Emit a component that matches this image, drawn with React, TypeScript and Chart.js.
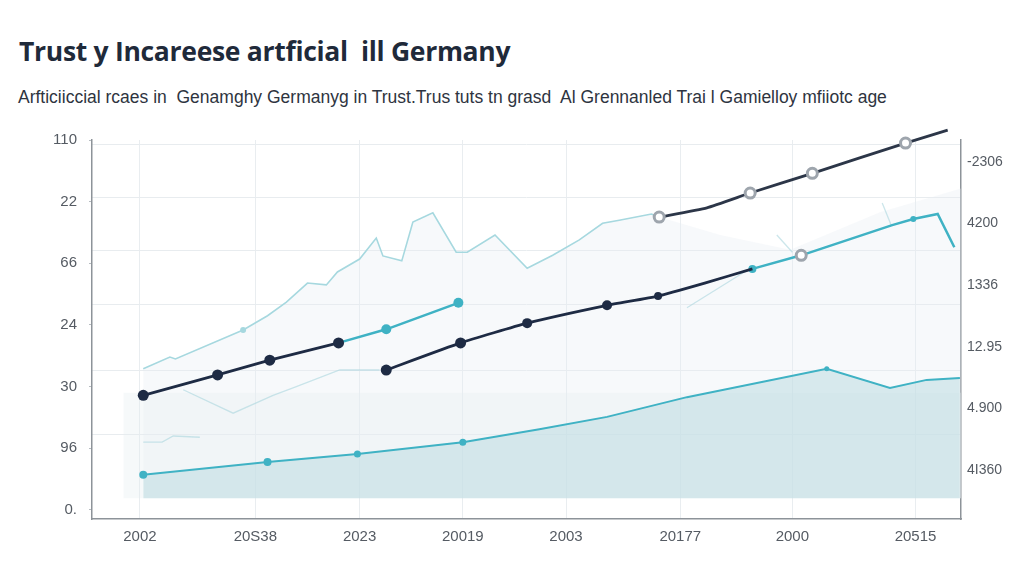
import React, { useEffect, useRef } from "react";
import { Chart, registerables } from "chart.js";

Chart.register(...registerables);

// ---------- text ----------
const TITLE = "Trust y Incareese artficial  ill Germany";
const SUBTITLE =
  "Arfticiiccial rcaes in  Genamghy Germanyg in Trust.Trus tuts tn grasd  Al Grennanled Trai l Gamielloy mfiiotc age";

// ---------- axes ----------
const X_TICK_LABELS = ["2002", "20S38", "2023", "20019", "2003", "20177", "2000", "20515"];
const X_TICK_POS = [0, 1.04, 1.98, 2.91, 3.84, 4.87, 5.88, 6.99];
const LEFT_TICK_LABELS = ["0.", "96", "30", "24", "66", "22", "110"];
const RIGHT_TICK_LABELS = ["4I360", "4.900", "12.95", "1336", "4200", "-2306"];
const GRID_LEVELS = [1.22, 2.27, 3.34, 4.2, 5.06, 5.93];

// ---------- series ----------
const DARK_A_X = [0.03, 0.7, 1.17, 1.79];
const DARK_A_Y = [1.86, 2.19, 2.43, 2.71];

const TEAL_A_X = [1.79, 2.22, 2.87];
const TEAL_A_Y = [2.71, 2.93, 3.36];

const DARK_B_X = [2.22, 2.89, 3.49, 4.21, 4.67, 5.09, 5.52];
const DARK_B_Y = [2.27, 2.71, 3.03, 3.32, 3.47, 3.68, 3.91];

const TEAL_B_X = [5.52, 5.96, 6.78, 6.97, 7.19, 7.34];
const TEAL_B_Y = [3.91, 4.13, 4.62, 4.72, 4.8, 4.26];

const DARK_C_X = [4.68, 5.11, 5.5, 6.06, 6.9, 7.28];
const DARK_C_Y = [4.75, 4.9, 5.14, 5.46, 5.95, 6.16];

const LIGHT_X = [0.03, 0.27, 0.32, 0.93, 1.15, 1.32, 1.51, 1.68, 1.78, 1.98, 2.13, 2.19, 2.36, 2.46, 2.64, 2.85, 2.95, 3.2, 3.49, 3.72, 3.96, 4.17, 4.32, 4.61, 4.68];
const LIGHT_Y = [2.29, 2.48, 2.45, 2.92, 3.15, 3.37, 3.68, 3.65, 3.86, 4.07, 4.41, 4.12, 4.04, 4.67, 4.82, 4.18, 4.18, 4.46, 3.92, 4.13, 4.38, 4.65, 4.7, 4.8, 4.75];
const HAZE_TAIL_X = [5.23, 5.86, 6.67, 7.41];
const HAZE_TAIL_Y = [4.46, 4.22, 4.83, 5.22];

const FAINT_1_X = [0.03, 0.2, 0.3, 0.54];
const FAINT_1_Y = [1.1, 1.1, 1.2, 1.18];
const FAINT_2_X = [0.39, 0.84, 1.2, 1.38, 1.8, 2.16];
const FAINT_2_Y = [1.95, 1.57, 1.86, 1.98, 2.27, 2.27];
const FAINT_3_X = [4.93, 5.52];
const FAINT_3_Y = [3.28, 3.94];
const FAINT_4_X = [5.74, 5.88];
const FAINT_4_Y = [4.46, 4.18];
const FAINT_5_X = [6.69, 6.77];
const FAINT_5_Y = [4.98, 4.62];

const BOTTOM_X = [0.03, 1.15, 1.96, 2.91, 3.6, 4.21, 4.93, 6.19, 6.76, 7.09, 7.39];
const BOTTOM_Y = [0.57, 0.78, 0.91, 1.1, 1.31, 1.51, 1.83, 2.29, 1.98, 2.11, 2.14];

const BACKDROP_X = [-0.15, 7.41];
const BACKDROP_Y = [1.9, 1.9];

const FILL_BASE = 0.19;

// ---------- colours ----------
const NAVY = "#1e2b44";
const NAVY_C = "#2c3648";
const TEAL = "#3fb2c4";
const LIGHT_TEAL = "#a6d8df";
const HOLLOW = "#9ea5ad";

const zip = (xs: number[], ys: number[]) => xs.map((x, i) => ({ x, y: ys[i] }));

export default function App() {
  const ref = useRef<HTMLCanvasElement | null>(null);

  useEffect(() => {
    document.body.style.margin = "0";
    const canvas = ref.current;
    if (!canvas) return;

    const font = { family: "'Liberation Sans', Arial, sans-serif", size: 15 };

    const chart = new Chart(canvas, {
      type: "line",
      data: {
        datasets: [
          {
            label: "backdrop",
            data: zip(BACKDROP_X, BACKDROP_Y),
            borderColor: "transparent",
            backgroundColor: "rgba(230,238,242,0.35)",
            fill: { value: FILL_BASE },
            pointRadius: 0,
            order: 12,
          },
          {
            label: "haze",
            data: zip(LIGHT_X.concat(HAZE_TAIL_X), LIGHT_Y.concat(HAZE_TAIL_Y)),
            borderColor: "transparent",
            backgroundColor: "rgba(232,239,243,0.35)",
            fill: { value: FILL_BASE },
            pointRadius: 0,
            order: 11,
          },
          {
            label: "bottom",
            data: zip(BOTTOM_X, BOTTOM_Y),
            borderColor: TEAL,
            borderWidth: 2,
            backgroundColor: "rgba(183,217,224,0.5)",
            fill: { value: FILL_BASE },
            pointRadius: [4, 4, 3.5, 3.5, 0, 0, 0, 2.5, 0, 0, 0],
            pointBackgroundColor: TEAL,
            pointBorderWidth: 0,
            order: 10,
          },
          {
            label: "light",
            data: zip(LIGHT_X, LIGHT_Y),
            borderColor: LIGHT_TEAL,
            borderWidth: 1.6,
            fill: false,
            pointRadius: LIGHT_X.map((_, i) => (i === 3 ? 3 : 0)),
            pointBackgroundColor: LIGHT_TEAL,
            pointBorderWidth: 0,
            order: 9,
          },
          ...[
            [FAINT_1_X, FAINT_1_Y],
            [FAINT_2_X, FAINT_2_Y],
            [FAINT_3_X, FAINT_3_Y],
            [FAINT_4_X, FAINT_4_Y],
            [FAINT_5_X, FAINT_5_Y],
          ].map(([xs, ys], k) => ({
            label: "faint" + k,
            data: zip(xs, ys),
            borderColor: "rgba(170,214,222,0.6)",
            borderWidth: 1.3,
            fill: false,
            pointRadius: 0,
            order: 8,
          })),
          {
            label: "tealA",
            data: zip(TEAL_A_X, TEAL_A_Y),
            borderColor: TEAL,
            borderWidth: 2.5,
            fill: false,
            pointRadius: [0, 5, 5],
            pointBackgroundColor: TEAL,
            pointBorderWidth: 0,
            order: 3,
          },
          {
            label: "tealB",
            data: zip(TEAL_B_X, TEAL_B_Y),
            borderColor: TEAL,
            borderWidth: 2.5,
            fill: false,
            pointRadius: [4, 5, 0, 3, 0, 0],
            pointBackgroundColor: [TEAL, "#ffffff", TEAL, TEAL, TEAL, TEAL],
            pointBorderColor: [TEAL, HOLLOW, TEAL, TEAL, TEAL, TEAL],
            pointBorderWidth: [0, 3, 0, 0, 0, 0],
            clip: false,
            order: 3,
          },
          {
            label: "darkA",
            data: zip(DARK_A_X, DARK_A_Y),
            borderColor: NAVY,
            borderWidth: 2.8,
            fill: false,
            pointRadius: 5.5,
            pointBackgroundColor: NAVY,
            pointBorderWidth: 0,
            order: 2,
          },
          {
            label: "darkB",
            data: zip(DARK_B_X, DARK_B_Y),
            borderColor: NAVY,
            borderWidth: 2.8,
            tension: 0.15,
            fill: false,
            pointRadius: [5.5, 5.5, 5, 5, 4, 0, 0],
            pointBackgroundColor: NAVY,
            pointBorderWidth: 0,
            order: 2,
          },
          {
            label: "darkC",
            data: zip(DARK_C_X, DARK_C_Y),
            borderColor: NAVY_C,
            borderWidth: 2.8,
            tension: 0.15,
            fill: false,
            pointRadius: [5, 0, 5, 5, 5, 4],
            pointStyle: ["circle", "circle", "circle", "circle", "circle", "triangle"],
            pointRotation: [0, 0, 0, 0, 0, 73],
            pointBackgroundColor: ["#ffffff", "#fff", "#ffffff", "#ffffff", "#ffffff", NAVY_C],
            pointBorderColor: [HOLLOW, HOLLOW, HOLLOW, HOLLOW, HOLLOW, NAVY_C],
            pointBorderWidth: [3, 3, 3, 3, 3, 1],
            clip: false,
            order: 1,
          },
        ],
      },
      options: {
        animation: false,
        responsive: false,
        devicePixelRatio: 1,
        layout: { padding: { top: 140, left: 0, right: 0, bottom: 0 } },
        plugins: { legend: { display: false }, tooltip: { enabled: false }, title: { display: false } },
        elements: { line: { tension: 0 } },
        scales: {
          x: {
            type: "linear",
            min: -0.432,
            max: 7.4,
            afterBuildTicks: (s: any) => {
              s.ticks = X_TICK_POS.map((v) => ({ value: v }));
            },
            afterFit: (s: any) => {
              s.height = 66;
            },
            ticks: {
              autoSkip: false,
              maxRotation: 0,
              padding: 9,
              color: "#555b63",
              font,
              callback: (v: any) => {
                const i = X_TICK_POS.indexOf(Number(v));
                return i >= 0 ? X_TICK_LABELS[i] : "";
              },
            },
            grid: { color: "#e9edf0", lineWidth: 1, drawTicks: false },
            border: { color: "#8d9399", width: 1.5 },
          },
          y: {
            type: "linear",
            position: "left",
            min: -0.146,
            max: 6,
            afterBuildTicks: (s: any) => {
              s.ticks = LEFT_TICK_LABELS.map((_, i) => ({ value: i }));
            },
            afterFit: (s: any) => {
              s.width = 92;
            },
            ticks: {
              padding: 12,
              color: "#555b63",
              font,
              callback: (v: any) => LEFT_TICK_LABELS[Number(v)] ?? "",
            },
            grid: { drawOnChartArea: false, drawTicks: true, tickLength: 3, color: "#b5bbc0" },
            border: { color: "#8d9399", width: 1.5 },
          },
          yGrid: {
            type: "linear",
            position: "left",
            min: -0.146,
            max: 6,
            afterBuildTicks: (s: any) => {
              s.ticks = GRID_LEVELS.map((v) => ({ value: v }));
            },
            afterFit: (s: any) => {
              s.width = 0;
            },
            ticks: { display: false },
            grid: { color: "#e8ecef", lineWidth: 1, drawTicks: false },
            border: { display: false },
          },
          y2: {
            type: "linear",
            position: "right",
            min: -0.795,
            max: 5.357,
            afterBuildTicks: (s: any) => {
              s.ticks = RIGHT_TICK_LABELS.map((_, i) => ({ value: i }));
            },
            afterFit: (s: any) => {
              s.width = 63;
            },
            ticks: {
              padding: 6,
              color: "#555b63",
              font: { family: font.family, size: 14 },
              callback: (v: any) => RIGHT_TICK_LABELS[Number(v)] ?? "",
            },
            grid: { drawOnChartArea: false, drawTicks: false },
            border: { color: "#8d9399", width: 1.5 },
          },
        },
      },
    } as any);

    return () => chart.destroy();
  }, []);

  return (
    <div style={{ position: "relative", width: 1024, height: 585, background: "#ffffff", overflow: "hidden" }}>
      <div
        style={{
          position: "absolute",
          left: 19,
          top: 34,
          fontFamily: "'Open Sans', sans-serif",
          fontWeight: 700,
          fontSize: 26.5,
          lineHeight: "34px",
          color: "#1f2a3a",
          whiteSpace: "pre",
          letterSpacing: -0.3,
        }}
      >
        {TITLE}
      </div>
      <div
        style={{
          position: "absolute",
          left: 18,
          top: 86,
          fontFamily: "'Liberation Sans', Arial, sans-serif",
          fontSize: 17.5,
          lineHeight: "22px",
          color: "#2e3440",
          whiteSpace: "pre",
        }}
      >
        {SUBTITLE}
      </div>
      <canvas ref={ref} width={1024} height={585} style={{ position: "absolute", left: 0, top: 0, width: 1024, height: 585 }} />
    </div>
  );
}
